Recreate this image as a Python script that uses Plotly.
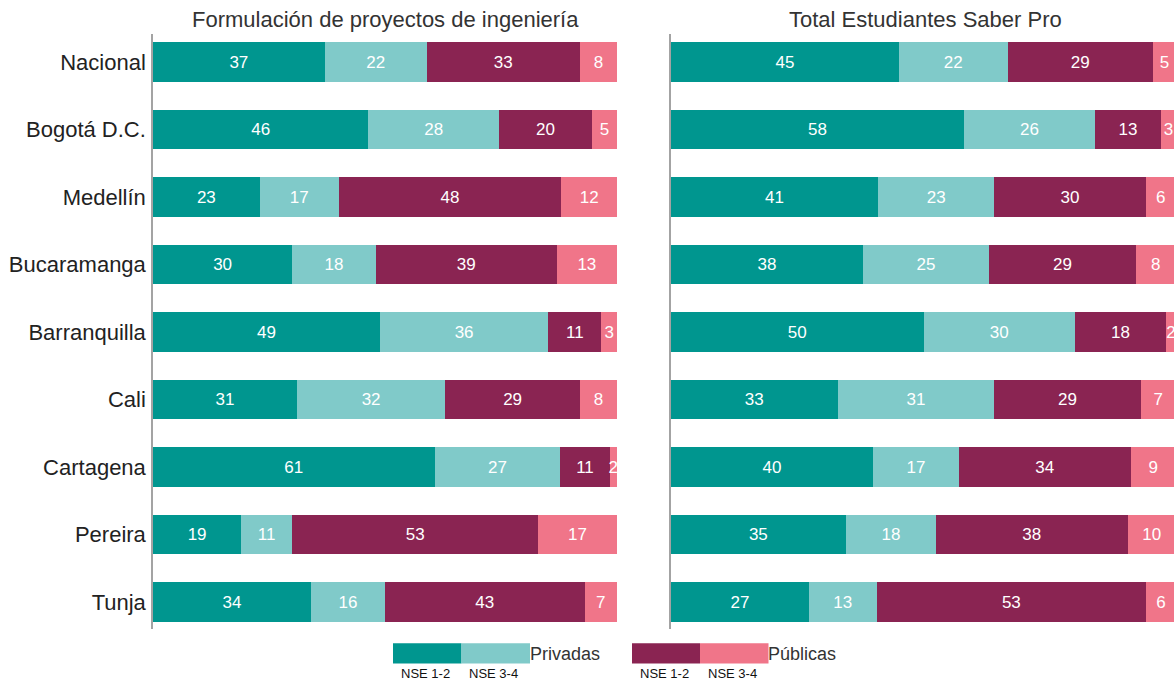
import plotly.graph_objects as go

W, H = 1174, 681

cities = ["Nacional", "Bogotá D.C.", "Medellín", "Bucaramanga", "Barranquilla",
          "Cali", "Cartagena", "Pereira", "Tunja"]

series_names = ["Privadas NSE 1-2", "Privadas NSE 3-4", "Públicas NSE 1-2", "Públicas NSE 3-4"]
colors = ["#00968f", "#80cac9", "#8a2452", "#f07589"]

# Formulación de proyectos de ingeniería (%)
form_priv_12 = [37, 46.4, 23, 30, 48.9, 31, 60.7, 19, 34]
form_priv_34 = [22, 28.2, 17, 18, 36.3, 32, 27.1, 11, 16]
form_pub_12 = [33, 20.0, 48, 39, 11.4, 29, 10.6, 53, 43]
form_pub_34 = [8, 5.4, 12, 13, 3.4, 8, 1.6, 17, 7]

# Total Estudiantes Saber Pro (%)
total_priv_12 = [45.1, 58, 41, 38, 50, 33, 40, 34.6, 27.3]
total_priv_34 = [21.6, 26, 23, 25, 30, 31, 17, 17.9, 13.4]
total_pub_12 = [28.7, 13, 30, 29, 18, 29, 34, 37.9, 53.4]
total_pub_34 = [4.6, 3, 6, 8, 2, 7, 9, 9.6, 5.9]

titles = ["Formulación de proyectos de ingeniería", "Total Estudiantes Saber Pro"]

FONT = "Liberation Sans, Arial, sans-serif"

# layout geometry (pixels)
T, B = 34, 52
PH = H - T - B


def px_x(p):
    return p / W


def px_y(p):
    return (H - B - p) / PH


fig = go.Figure()

panels = [
    ([form_priv_12, form_priv_34, form_pub_12, form_pub_34], "x", "y"),
    ([total_priv_12, total_priv_34, total_pub_12, total_pub_34], "x2", "y2"),
]
for vals, xa, ya in panels:
    for name, col, v in zip(series_names, colors, vals):
        fig.add_trace(go.Bar(
            y=cities, x=v, orientation="h", name=name,
            marker=dict(color=col, line=dict(width=0)),
            text=v, texttemplate="%{x:.0f}", textposition="inside",
            insidetextanchor="middle", textangle=0, constraintext="none",
            textfont=dict(color="white", size=17, family=FONT),
            xaxis=xa, yaxis=ya, showlegend=False, cliponaxis=True,
        ))

yrange = [8.40, -0.415]
common_y = dict(type="category", categoryorder="array", categoryarray=cities,
                range=yrange, showgrid=False, zeroline=False,
                showline=True, linecolor="#a3a3a3", linewidth=1.5)
fig.update_layout(
    width=W, height=H,
    margin=dict(l=0, r=0, t=T, b=B),
    barmode="stack", bargap=0.41,
    plot_bgcolor="white", paper_bgcolor="white",
    font=dict(family=FONT, color="#222222"),
    xaxis=dict(domain=[px_x(153), px_x(617)], range=[0, 100], visible=False, fixedrange=True),
    xaxis2=dict(domain=[px_x(671), 1.0], range=[0, (W - 671) / 5.05], visible=False, fixedrange=True),
    yaxis=dict(**common_y, anchor="x", showticklabels=True, ticks="",
               ticklabelstandoff=1, fixedrange=True,
               tickfont=dict(size=22, color="#222222", family=FONT)),
    yaxis2=dict(**common_y, anchor="x2", showticklabels=False, ticks="", fixedrange=True),
)

annotations = []
# panel titles
for t, cx in zip(titles, [385, 925]):
    annotations.append(dict(text=t, x=px_x(cx), y=px_y(19), xref="paper", yref="paper",
                            showarrow=False, xanchor="center", yanchor="middle",
                            font=dict(size=22, color="#333333", family=FONT)))

# custom legend
shapes = []
legend_groups = [
    ("Privadas", [393, 461.5, 530], colors[0:2]),
    ("Públicas", [632, 700, 768.5], colors[2:4]),
]
for label, xs, cols in legend_groups:
    for i in range(2):
        shapes.append(dict(type="rect", xref="paper", yref="paper",
                           x0=px_x(xs[i]), x1=px_x(xs[i + 1]),
                           y0=px_y(663.5), y1=px_y(643.3),
                           fillcolor=cols[i], line=dict(width=0), layer="above"))
        annotations.append(dict(text=["NSE 1-2", "NSE 3-4"][i],
                                x=px_x(xs[i] + 5.5), y=px_y(673), xref="paper", yref="paper",
                                showarrow=False, xanchor="left", yanchor="middle",
                                font=dict(size=13, color="#111111", family=FONT)))
    annotations.append(dict(text=label, x=px_x(xs[2] - 0.5), y=px_y(654), xref="paper", yref="paper",
                            showarrow=False, xanchor="left", yanchor="middle", xshift=-2,
                            font=dict(size=18, color="#333333", family=FONT)))

fig.update_layout(annotations=annotations, shapes=shapes)

fig.write_html("out.html", config={"displayModeBar": False},
               post_script="document.body.style.margin='0';")
